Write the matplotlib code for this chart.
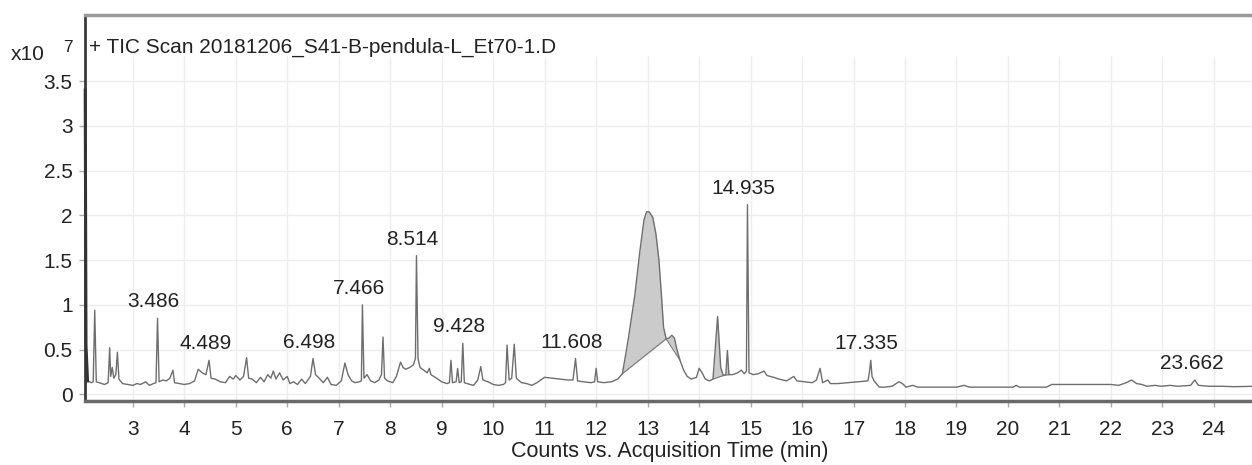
import numpy as np
import matplotlib
matplotlib.use('Agg')
import matplotlib.pyplot as plt
import matplotlib as mpl

mpl.rcParams['font.family'] = ['Liberation Sans', 'DejaVu Sans']

# chromatogram trace (time in min, counts in 1e7)
time_min = [2.075, 2.09, 2.12, 2.20, 2.23, 2.26, 2.29, 2.40, 2.45, 2.52, 2.55, 2.57, 2.60, 2.63, 2.67, 2.70, 2.73,
            2.80, 2.90, 3.00, 3.08, 3.15, 3.25, 3.32, 3.40, 3.45, 3.48, 3.51, 3.58, 3.65, 3.72, 3.78, 3.81,
            3.90, 4.00, 4.10, 4.20, 4.27, 4.35, 4.42, 4.48, 4.52, 4.60, 4.70, 4.80, 4.88, 4.95, 5.00, 5.08,
            5.15, 5.21, 5.25, 5.32, 5.40, 5.48, 5.55, 5.62, 5.68, 5.73, 5.78, 5.85, 5.92, 6.00, 6.05, 6.12,
            6.20, 6.28, 6.35, 6.45, 6.50, 6.55, 6.62, 6.70, 6.78, 6.85, 6.95, 7.05, 7.12, 7.18, 7.25, 7.32,
            7.40, 7.44, 7.46, 7.49, 7.55, 7.62, 7.70, 7.78, 7.83, 7.86, 7.89, 7.95, 8.05, 8.12, 8.20, 8.25,
            8.30, 8.38, 8.45, 8.49, 8.51, 8.54, 8.58, 8.65, 8.72, 8.76, 8.79, 8.90, 9.00, 9.10, 9.15, 9.18,
            9.21, 9.28, 9.31, 9.34, 9.38, 9.41, 9.44, 9.55, 9.62, 9.70, 9.76, 9.80, 9.90, 10.00, 10.10, 10.20,
            10.24, 10.27, 10.31, 10.36, 10.41, 10.45, 10.55, 10.65, 10.75, 10.85, 11.00, 11.15, 11.30, 11.45,
            11.55, 11.60, 11.64, 11.75, 11.90, 11.97, 12.00, 12.03, 12.15, 12.30, 12.42, 12.51, 12.62, 12.75,
            12.85, 12.93, 12.98, 13.03, 13.10, 13.16, 13.22, 13.27, 13.31, 13.36, 13.42, 13.47, 13.52, 13.57,
            13.63, 13.70, 13.77, 13.85, 13.95, 14.00, 14.05, 14.12, 14.20, 14.27, 14.36, 14.42, 14.47, 14.52,
            14.55, 14.58, 14.65, 14.75, 14.82, 14.88, 14.92, 14.94, 14.97, 15.05, 15.15, 15.26, 15.32, 15.45,
            15.55, 15.70, 15.84, 15.90, 16.05, 16.20, 16.28, 16.35, 16.40, 16.50, 16.55, 16.70, 16.90, 17.10,
            17.28, 17.31, 17.335, 17.36, 17.40, 17.50, 17.60, 17.75, 17.88, 17.95, 18.02, 18.15, 18.25, 18.60, 19.00,
            19.15, 19.25, 19.70, 20.10, 20.16, 20.22, 20.75, 20.85, 21.20, 21.60, 22.00, 22.15, 22.30, 22.40,
            22.50, 22.60, 22.70, 22.85, 22.98, 23.15, 23.30, 23.55, 23.63, 23.70, 23.90, 24.15, 24.40, 24.79]
counts = [3.40, 0.55, 0.15, 0.13, 0.14, 0.94, 0.14, 0.12, 0.11, 0.13, 0.52, 0.20, 0.30, 0.18, 0.22, 0.47, 0.17,
          0.12, 0.11, 0.10, 0.12, 0.11, 0.14, 0.10, 0.12, 0.13, 0.85, 0.14, 0.16, 0.15, 0.18, 0.27, 0.13,
          0.12, 0.11, 0.12, 0.15, 0.28, 0.24, 0.22, 0.38, 0.18, 0.17, 0.14, 0.13, 0.20, 0.17, 0.21, 0.16,
          0.20, 0.41, 0.18, 0.17, 0.13, 0.19, 0.14, 0.22, 0.18, 0.26, 0.17, 0.24, 0.16, 0.20, 0.12, 0.14,
          0.11, 0.17, 0.12, 0.20, 0.40, 0.22, 0.18, 0.13, 0.19, 0.11, 0.10, 0.15, 0.35, 0.22, 0.15, 0.13,
          0.14, 0.15, 1.00, 0.18, 0.22, 0.15, 0.13, 0.16, 0.22, 0.64, 0.18, 0.15, 0.13, 0.20, 0.36, 0.30,
          0.28, 0.30, 0.33, 0.40, 1.55, 0.40, 0.30, 0.27, 0.24, 0.29, 0.22, 0.18, 0.14, 0.12, 0.13, 0.38,
          0.13, 0.14, 0.29, 0.13, 0.14, 0.57, 0.13, 0.11, 0.10, 0.16, 0.31, 0.16, 0.14, 0.11, 0.10, 0.11,
          0.13, 0.55, 0.16, 0.18, 0.56, 0.18, 0.13, 0.12, 0.10, 0.13, 0.19, 0.18, 0.17, 0.16,
          0.16, 0.40, 0.15, 0.14, 0.13, 0.14, 0.29, 0.14, 0.13, 0.14, 0.17, 0.23, 0.60, 1.10,
          1.60, 1.95, 2.04, 2.04, 1.98, 1.80, 1.50, 1.10, 0.75, 0.62, 0.63, 0.66, 0.63, 0.50,
          0.38, 0.27, 0.20, 0.17, 0.19, 0.29, 0.25, 0.17, 0.15, 0.17, 0.87, 0.30, 0.21, 0.22,
          0.49, 0.22, 0.22, 0.24, 0.27, 0.23, 0.26, 2.12, 0.24, 0.22, 0.23, 0.26, 0.21, 0.19,
          0.17, 0.15, 0.20, 0.15, 0.14, 0.13, 0.16, 0.29, 0.13, 0.16, 0.12, 0.12, 0.13, 0.14,
          0.15, 0.25, 0.38, 0.20, 0.15, 0.08, 0.08, 0.09, 0.14, 0.12, 0.08, 0.10, 0.08, 0.08, 0.08,
          0.10, 0.08, 0.08, 0.08, 0.10, 0.08, 0.08, 0.11, 0.11, 0.11, 0.11, 0.10, 0.13, 0.16,
          0.12, 0.11, 0.09, 0.10, 0.09, 0.10, 0.09, 0.10, 0.16, 0.10, 0.09, 0.09, 0.085, 0.09]

peak_labels = ['3.486', '4.489', '6.498', '7.466', '8.514', '9.428', '11.608', '14.935', '17.335', '23.662']

# integrated windows (shaded between trace and straight chord)
fill_windows = [(12.51, 13.36), (13.36, 13.63), (14.27, 14.47), (14.47, 14.60)]

x_ticks = list(range(3, 25))
y_ticks = [0, 0.5, 1, 1.5, 2, 2.5, 3, 3.5]
y_tick_labels = ['0', '0.5', '1', '1.5', '2', '2.5', '3', '3.5']

t = np.array(time_min)
c = np.array(counts)

fig = plt.figure(figsize=(12.52, 4.65), dpi=100)
ax = fig.add_axes([0.0679, 0.1376, 0.9341, 0.8301])
ax.set_xlim(2.071, 24.79)
ax.set_ylim(-0.075, 4.24)

# grid stops below the title strip
grid_top = 3.78
ax.vlines(x_ticks, -0.075, grid_top, colors='#ededed', lw=1.0, zorder=0)
ax.hlines(y_ticks, 2.071, 24.79, colors='#ededed', lw=1.0, zorder=0)

for a, b in fill_windows:
    m = (t >= a) & (t <= b)
    xs = t[m]
    ys = c[m]
    chord = np.interp(xs, [xs[0], xs[-1]], [ys[0], ys[-1]])
    ax.fill_between(xs, chord, ys, color='#cbcbcb', lw=0, zorder=1)
    ax.plot([xs[0], xs[-1]], [ys[0], ys[-1]], color='#7a7a7a', lw=0.8, zorder=2)

ax.plot(t, c, color='#6e6e6e', lw=1.0, zorder=3)
# leading solvent front drawn over the left spine
ax.plot(t[:3], c[:3], color='#333333', lw=2.2, zorder=4, clip_on=False)

for lab in peak_labels:
    pt = float(lab)
    m = np.abs(t - pt) < 0.06
    py = c[m].max()
    ax.annotate(lab, (pt, py), xytext=(-3, 5), textcoords='offset points',
                ha='center', va='bottom', fontsize=15, color='#222222')

ax.set_xticks(x_ticks)
ax.set_xticklabels([str(v) for v in x_ticks])
ax.set_yticks(y_ticks)
ax.set_yticklabels(y_tick_labels)
ax.tick_params(axis='both', direction='out', length=4, width=1, color='#aaaaaa',
               labelsize=15, labelcolor='#222222')
ax.tick_params(axis='x', pad=10)
ax.tick_params(axis='y', pad=5)
ax.set_xlabel('Counts vs. Acquisition Time (min)', fontsize=15.5, color='#222222', labelpad=1)

ax.spines['right'].set_visible(False)
ax.spines['left'].set_color('#3a3a3a')
ax.spines['left'].set_linewidth(2.0)
ax.spines['top'].set_color('#9a9a9a')
ax.spines['top'].set_linewidth(2.5)
ax.spines['bottom'].set_color('#6a6a6a')
ax.spines['bottom'].set_linewidth(2.5)

ax.text(0.003, 0.915, '+ TIC Scan 20181206_S41-B-pendula-L_Et70-1.D', transform=ax.transAxes,
        ha='left', va='center', fontsize=15, color='#222222')
fig.text(11 / 1252, 1 - 55 / 465, 'x10', ha='left', va='center', fontsize=15, color='#222222')
fig.text(63 / 1252, 1 - 48 / 465, '7', ha='left', va='center', fontsize=12.5, color='#222222')

fig.savefig('out.png', dpi=100)
plt.close()
